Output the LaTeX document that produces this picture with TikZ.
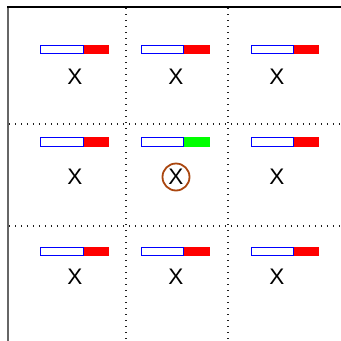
\documentclass[tikz,border=0pt]{standalone}
\usepackage{fontspec}
\setmainfont{Liberation Sans}
\definecolor{ringbrown}{RGB}{170,70,15}
\definecolor{dotgray}{RGB}{30,30,30}
\tikzset{
  gridline/.style={dotgray, line width=1.2pt, dash pattern=on 1.3pt off 4.7pt},
  xlabel/.style={inner sep=0pt, font=\fontsize{22.5}{23}\selectfont},
  barempty/.style={draw=blue, fill=white, line width=1pt},
  barred/.style={fill=red, draw=none},
  bargreen/.style={fill=green, draw=none},
  ring/.style={draw=ringbrown, line width=1.8pt, circle, minimum size=27pt, inner sep=0pt}
}
\begin{document}
\begin{tikzpicture}[x=1pt,y=-1pt]
\useasboundingbox (0,0) rectangle (341,341);
% frame
\draw[black!60, line width=2pt] (8,7) -- (8,341);
\draw[black, line width=1.6pt] (7,7) -- (341,7);
% dotted grid
\draw[gridline] (126,8) -- (126,341);
\draw[gridline] (228,8) -- (228,341);
\draw[gridline] (9,124) -- (341,124);
\draw[gridline] (9,226) -- (341,226);
% bars
\foreach \ya/\yb [count=\r] in {45.5/53.5, 137.5/146.5, 247.5/255.5}{
  \foreach \xa/\xm/\xb [count=\c] in {40.5/83/109, 141.5/183/210, 251.5/293/319}{
    \ifnum\r=2 \ifnum\c=2
      \fill[bargreen] (\xm,\ya-0.5) rectangle (\xb,\yb+0.5);
    \else
      \fill[barred] (\xm,\ya-0.5) rectangle (\xb,\yb+0.5);
    \fi\else
      \fill[barred] (\xm,\ya-0.5) rectangle (\xb,\yb+0.5);
    \fi
    \draw[barempty] (\xa,\ya) rectangle (\xm,\yb);
  }
}
% labels
\node[xlabel] (x11) at (75,77) {X};
\node[xlabel] (x12) at (176,77) {X};
\node[xlabel] (x13) at (277,77) {X};
\node[xlabel] (x21) at (75,177) {X};
\node[xlabel] (x22) at (176,177) {X};
\node[xlabel] (x23) at (277,177) {X};
\node[xlabel] (x31) at (75,277) {X};
\node[xlabel] (x32) at (176,277) {X};
\node[xlabel] (x33) at (277,277) {X};
\node[ring] (r22) at (176,177) {};
\end{tikzpicture}
\end{document}
